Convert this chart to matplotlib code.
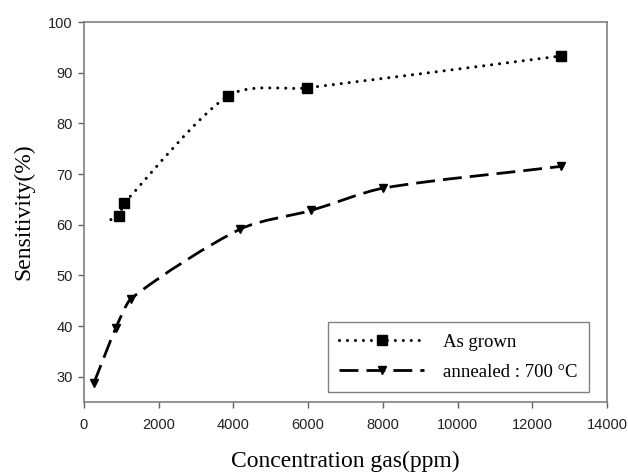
import matplotlib
matplotlib.use('Agg')
import matplotlib.pyplot as plt
from matplotlib.path import Path
from matplotlib.patches import PathPatch
from matplotlib.lines import Line2D

plt.rcParams['font.family'] = 'Liberation Sans'

# Data
grown_x = [937, 1071, 3855, 5970, 12770]
grown_y = [61.8, 64.2, 85.4, 87.0, 93.3]
grown_curve_start = (720, 61.0)   # dotted curve begins a bit before the first marker

annealed_x = [268, 857, 1258, 4176, 6077, 8004, 12770]
annealed_y = [28.8, 39.7, 45.4, 59.1, 62.8, 67.2, 71.5]

x_ticks = [0, 2000, 4000, 6000, 8000, 10000, 12000, 14000]
y_ticks = [30, 40, 50, 60, 70, 80, 90, 100]


def smooth_path(xs, ys, frac=0.27):
    # low-tension Hermite curve through the points, as Bezier segments;
    # knot slopes lean toward the longer neighbouring segment
    n = len(xs)
    h = [xs[i + 1] - xs[i] for i in range(n - 1)]
    sec = [(ys[i + 1] - ys[i]) / h[i] for i in range(n - 1)]
    m = [sec[0]]
    for i in range(1, n - 1):
        m.append((h[i - 1] * sec[i - 1] + h[i] * sec[i]) / (h[i - 1] + h[i]))
    m.append(sec[-1])
    verts = [(xs[0], ys[0])]
    codes = [Path.MOVETO]
    for i in range(n - 1):
        d = h[i] * frac
        verts += [(xs[i] + d, ys[i] + m[i] * d),
                  (xs[i + 1] - d, ys[i + 1] - m[i + 1] * d),
                  (xs[i + 1], ys[i + 1])]
        codes += [Path.CURVE4] * 3
    return Path(verts, codes)


dot_style = (0, (0.01, 2.6))
dash_style = (0, (6.8, 2.9))

fig = plt.figure(figsize=(6.28, 4.73), dpi=100)
ax = fig.add_axes([84 / 628, 71 / 473, 523 / 628, 380 / 473])

gx = [grown_curve_start[0]] + grown_x
gy = [grown_curve_start[1]] + grown_y
ax.add_patch(PathPatch(smooth_path(gx, gy), fill=False, edgecolor='black',
                       linewidth=2.2, linestyle=dot_style, capstyle='round'))
ax.add_patch(PathPatch(smooth_path(annealed_x, annealed_y), fill=False, edgecolor='black',
                       linewidth=2.0, linestyle=dash_style, capstyle='butt'))

ax.plot(grown_x, grown_y, linestyle='none', marker='s', markersize=6.5, color='black')
ax.plot(annealed_x, annealed_y, linestyle='none', marker='v', markersize=6, color='black')

ax.set_xlim(0, 14000)
ax.set_ylim(25, 100)
ax.set_xticks(x_ticks)
ax.set_yticks(y_ticks)
ax.tick_params(direction='out', length=4, width=1, colors='#606060', labelsize=10.5,
               labelcolor='#222222', top=False, right=False)
ax.tick_params(axis='x', pad=7.5)
ax.tick_params(axis='y', pad=4)
for s in ax.spines.values():
    s.set_color('#808080')
    s.set_linewidth(1.2)

ax.set_xlabel('Concentration gas(ppm)', family='Liberation Serif', fontsize=17, va='baseline')
ax.xaxis.set_label_coords(0.5, (473 - 467 - 71) / 380)
ax.set_ylabel('Sensitivity(%)', family='Liberation Serif', fontsize=17, labelpad=10)

handles = [
    Line2D([], [], color='black', linewidth=2.2, linestyle=dot_style,
           dash_capstyle='round', marker='s', markersize=6.5),
    Line2D([], [], color='black', linewidth=2.0, linestyle=dash_style,
           marker='v', markersize=6),
]
leg = ax.legend(handles, ['As grown', 'annealed : 700 °C'], loc='lower right',
                bbox_to_anchor=(0.966, 0.026), borderaxespad=0, numpoints=1,
                handlelength=4.5, fancybox=False, framealpha=1, edgecolor='#808080',
                prop={'family': 'Liberation Serif', 'size': 13.5},
                borderpad=0.6, labelspacing=0.7, handletextpad=1.05)
leg.get_frame().set_linewidth(1.0)

fig.savefig('out.png', dpi=100)
